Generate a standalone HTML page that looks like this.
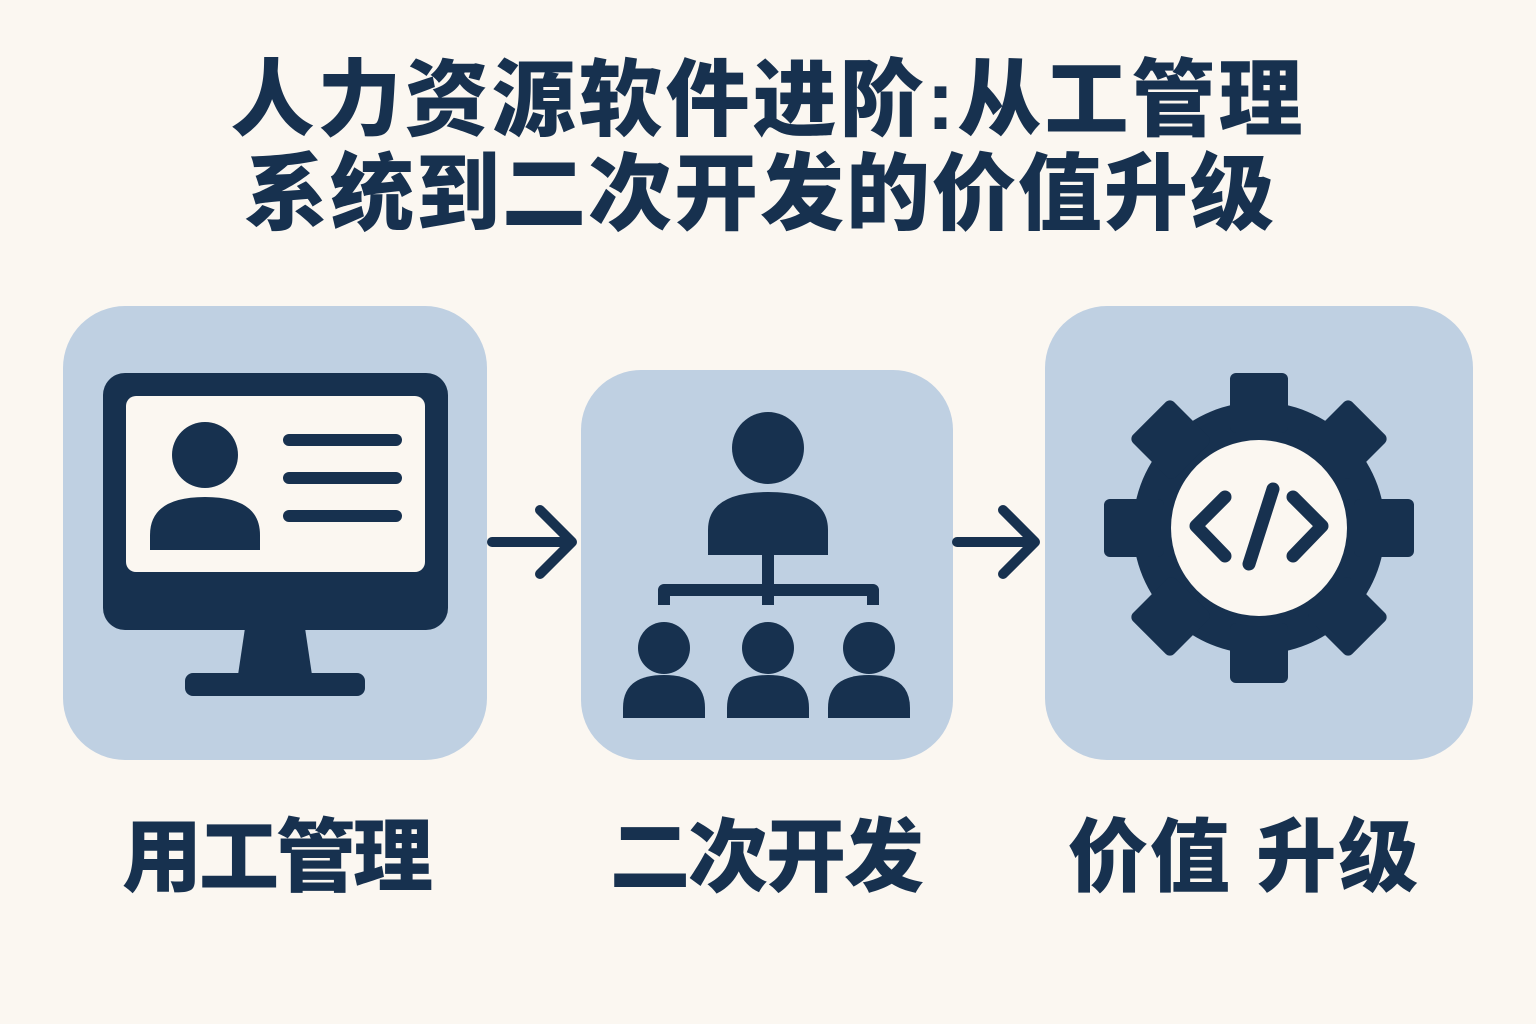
<!DOCTYPE html>
<html><head><meta charset="utf-8"><style>
body{margin:0;width:1536px;height:1024px;background:#fbf7f1;overflow:hidden;position:relative;font-family:"Liberation Sans","Noto Sans CJK SC",sans-serif;color:#17314f}
.t{position:absolute;left:0;width:1536px;text-align:center;font-weight:900;font-size:84px;line-height:1;letter-spacing:3px}
.l{position:absolute;font-weight:900;font-size:80px;line-height:1;white-space:nowrap}
</style></head><body>
<div class="t" style="top:58px">人力资源软件进阶:从工管理</div>
<div class="t" style="top:152px;left:-8px;letter-spacing:2px">系统到二次开发的价值升级</div>
<svg width="1536" height="1024" style="position:absolute;left:0;top:0">
<g fill="#bfd0e2">
<rect x="63" y="306" width="424" height="454" rx="62"/>
<rect x="581" y="370" width="372" height="390" rx="60"/>
<rect x="1045" y="306" width="428" height="454" rx="62"/>
</g>
<g stroke="#17314f" stroke-width="10" fill="none" stroke-linecap="round" stroke-linejoin="round">
<path d="M492 542H572M540 510L572 542L540 574"/>
<path d="M957 542H1035M1003 510L1035 542L1003 574"/>
</g>
<g fill="#17314f">
<rect x="103" y="373" width="345" height="257" rx="22"/>
<path d="M245 628H305L312 675H238Z"/>
<rect x="185" y="673" width="180" height="23" rx="8"/>
</g>
<rect x="126" y="396" width="299" height="176" rx="10" fill="#fbf7f1"/>
<g fill="#17314f">
<circle cx="205" cy="455" r="33"/>
<path d="M150 550V535Q150 497 205 497Q260 497 260 535V550Z"/>
<rect x="283" y="434" width="119" height="12" rx="6"/>
<rect x="283" y="472" width="119" height="12" rx="6"/>
<rect x="283" y="510" width="119" height="12" rx="6"/>
<circle cx="768" cy="448" r="36"/>
<path d="M708 555V530Q708 492 768 492Q828 492 828 530V555Z"/>
<circle cx="664" cy="648" r="26"/>
<circle cx="768" cy="648" r="26"/>
<circle cx="869" cy="648" r="26"/>
<path d="M623 718V708Q623 675 664 675Q705 675 705 708V718Z"/>
<path d="M727 718V708Q727 675 768 675Q809 675 809 708V718Z"/>
<path d="M828 718V708Q828 675 869 675Q910 675 910 708V718Z"/>
</g>
<path d="M768 555V605M664 605V590H873V605" stroke="#17314f" stroke-width="12" fill="none" stroke-linejoin="round"/>
<g transform="translate(1259,528)" fill="#17314f">
<circle r="126"/>
<rect x="-29" y="-155" width="58" height="60" rx="6"/>
<rect x="-29" y="-155" width="58" height="60" rx="6" transform="rotate(45)"/>
<rect x="-29" y="-155" width="58" height="60" rx="6" transform="rotate(90)"/>
<rect x="-29" y="-155" width="58" height="60" rx="6" transform="rotate(135)"/>
<rect x="-29" y="-155" width="58" height="60" rx="6" transform="rotate(180)"/>
<rect x="-29" y="-155" width="58" height="60" rx="6" transform="rotate(225)"/>
<rect x="-29" y="-155" width="58" height="60" rx="6" transform="rotate(270)"/>
<rect x="-29" y="-155" width="58" height="60" rx="6" transform="rotate(315)"/>
<circle r="88" fill="#fbf7f1"/>
</g>
<g stroke="#17314f" stroke-width="13" fill="none" stroke-linecap="round" stroke-linejoin="round">
<path d="M1225 497L1196 526L1225 556"/>
<path d="M1273 489L1249 564"/>
<path d="M1293 497L1322 526L1293 556"/>
</g>
</svg>
<div class="l" style="left:122px;top:818px;letter-spacing:-3px">用工管理</div>
<div class="l" style="left:610px;top:818px;letter-spacing:-2px">二次开发</div>
<div class="l" style="left:1068px;top:818px;letter-spacing:2px">价值 升级</div>
</body></html>
